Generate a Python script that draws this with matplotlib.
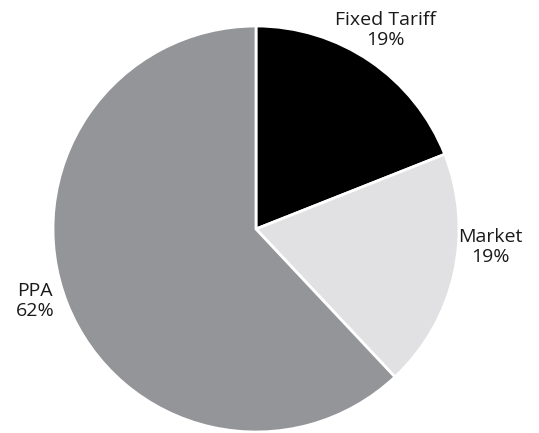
import matplotlib.pyplot as plt

categories = ["Fixed Tariff", "Market", "PPA"]
shares = [19, 19, 62]
colors = ["#000000", "#e1e1e3", "#939598"]
label_pos = [(385, 30), (490, 247), (35, 301)]

W, H = 539, 433
fig = plt.figure(figsize=(W / 100, H / 100), dpi=100)
ax = fig.add_axes([0, 0, 1, 1])

cx, cy, r = 256, 229, 203
ax.pie(shares, colors=colors, startangle=90, counterclock=False,
       center=(cx, H - cy), radius=r, frame=True,
       wedgeprops=dict(edgecolor="white", linewidth=2))
ax.set_xlim(0, W)
ax.set_ylim(0, H)
ax.set_aspect("equal")
ax.axis("off")

for name, val, (x, y) in zip(categories, shares, label_pos):
    ax.text(x, H - y, f"{name}\n{val}%", ha="center", va="center",
            fontsize=14, family="Open Sans", color="#1a1a1a",
            linespacing=1.1)

fig.savefig("out.png", dpi=100)
